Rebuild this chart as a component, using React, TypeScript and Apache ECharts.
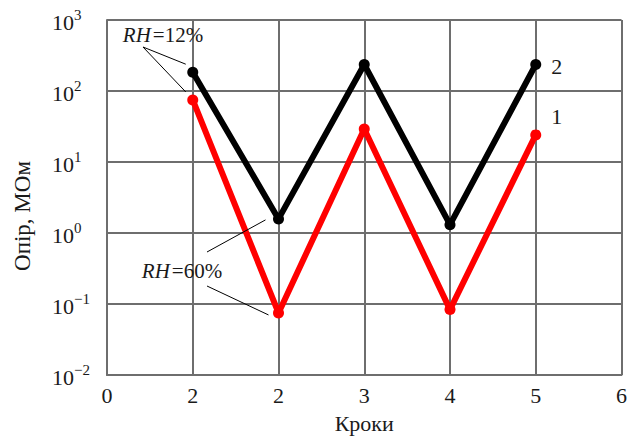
import React, { useEffect, useRef } from "react";
import * as echarts from "echarts";

// Measurement steps (x positions) and the printed tick labels of the step axis
const steps = [1, 2, 3, 4, 5];
const xTickLabels = ["0", "2", "2", "3", "4", "5", "6"];

// Resistance, MOhm
const curve2 = [184, 1.58, 236, 1.31, 236]; // black, curve 2
const curve1 = [74.8, 0.0748, 29.2, 0.0834, 24.1]; // red, curve 1

const FONT = "Liberation Serif";
const GRID_COLOR = "#6e6e6e";
const TEXT = "#1a1a1a";

const toPairs = (ys: number[]) => steps.map((x, i) => [x, ys[i]]);

const supDigits = (n: number) => (n < 0 ? "\u2212" + Math.abs(n) : String(n));

export default function App() {
  const ref = useRef<HTMLDivElement>(null);

  useEffect(() => {
    if (!ref.current) return;
    const chart = echarts.init(ref.current, undefined, { renderer: "svg" });

    chart.setOption({
      animation: false,
      backgroundColor: "#ffffff",
      textStyle: { fontFamily: FONT },
      grid: { left: 107, right: 3, top: 20, bottom: 61, containLabel: false },
      xAxis: {
        type: "value",
        min: 0,
        max: 6,
        interval: 1,
        name: "Кроки",
        nameLocation: "middle",
        nameGap: 37,
        nameTextStyle: { fontFamily: FONT, fontSize: 22, color: TEXT },
        axisLine: { show: true, lineStyle: { color: GRID_COLOR, width: 2 } },
        axisTick: { show: false },
        axisLabel: {
          fontFamily: FONT,
          fontSize: 22,
          color: TEXT,
          margin: 9,
          formatter: (v: number) => xTickLabels[Math.round(v)] ?? "",
        },
        splitLine: { show: true, lineStyle: { color: GRID_COLOR, width: 2 } },
      },
      yAxis: {
        type: "log",
        logBase: 10,
        min: 0.01,
        max: 1000,
        axisLine: { show: true, lineStyle: { color: GRID_COLOR, width: 2 } },
        axisTick: { show: false },
        axisLabel: {
          margin: 55,
          align: "left",
          formatter: (v: number) => {
            const e = Math.round(Math.log10(v));
            return "{b|10}{s|" + supDigits(e) + "}";
          },
          rich: {
            b: { fontFamily: FONT, fontSize: 22, color: TEXT, padding: [5, 0, 0, 0] },
            s: { fontFamily: FONT, fontSize: 15, color: TEXT, padding: [0, 0, 11, 0] },
          },
        },
        splitLine: { show: true, lineStyle: { color: GRID_COLOR, width: 2 } },
      },
      series: [
        {
          name: "1",
          type: "line",
          data: toPairs(curve1),
          lineStyle: { color: "#ff0000", width: 6 },
          itemStyle: { color: "#ff0000" },
          symbol: "circle",
          symbolSize: 11,
          z: 3,
        },
        {
          name: "2",
          type: "line",
          data: toPairs(curve2),
          lineStyle: { color: "#000000", width: 6 },
          itemStyle: { color: "#000000" },
          symbol: "circle",
          symbolSize: 11,
          z: 4,
        },
      ],
    });

    // Annotations anchored to the plotted points
    const px = (x: number, y: number) =>
      chart.convertToPixel({ gridIndex: 0 }, [x, y]) as number[];
    const b1 = px(steps[0], curve2[0]);
    const r1 = px(steps[0], curve1[0]);
    const b2 = px(steps[1], curve2[1]);
    const r2 = px(steps[1], curve1[1]);
    const bEnd = px(steps[4], curve2[4]);
    const rEnd = px(steps[4], curve1[4]);

    const thin = { stroke: "#000", lineWidth: 1 };
    const rhText = (x: number, y: number, value: string) => ({
      type: "text",
      x,
      y,
      style: {
        text: "{i|RH}=" + value,
        fontFamily: FONT,
        fontSize: 21,
        fill: TEXT,
        align: "center",
        verticalAlign: "middle",
        rich: {
          i: { fontFamily: FONT, fontStyle: "italic", fontSize: 21, fill: TEXT, padding: [0, 2, 0, 0] },
        },
      },
      z: 10,
    });

    chart.setOption({
      graphic: [
        {
          type: "text",
          x: 22,
          y: 216,
          rotation: Math.PI / 2,
          style: {
            text: "Опір, МОм",
            fontFamily: FONT,
            fontSize: 23,
            fill: TEXT,
            align: "center",
            verticalAlign: "middle",
          },
        },
        rhText(163, 35, "12%"),
        { type: "line", shape: { x1: 143, y1: 47, x2: b1[0] - 7, y2: b1[1] - 8 }, style: thin, z: 10 },
        { type: "line", shape: { x1: 143, y1: 47, x2: r1[0] - 7, y2: r1[1] - 8 }, style: thin, z: 10 },
        rhText(182, 271, "60%"),
        { type: "line", shape: { x1: 207, y1: 252, x2: b2[0] - 13, y2: b2[1] + 1 }, style: thin, z: 10 },
        { type: "line", shape: { x1: 207, y1: 286, x2: r2[0] - 10, y2: r2[1] + 2 }, style: thin, z: 10 },
        {
          type: "text",
          x: bEnd[0] + 21,
          y: bEnd[1] + 2,
          style: { text: "2", fontFamily: FONT, fontSize: 22, fill: TEXT, align: "center", verticalAlign: "middle" },
        },
        {
          type: "text",
          x: rEnd[0] + 21,
          y: rEnd[1] - 18,
          style: { text: "1", fontFamily: FONT, fontSize: 22, fill: TEXT, align: "center", verticalAlign: "middle" },
        },
      ],
    });

    return () => chart.dispose();
  }, []);

  return <div ref={ref} style={{ width: 630, height: 439, position: "absolute", left: 0, top: 0 }} />;
}
